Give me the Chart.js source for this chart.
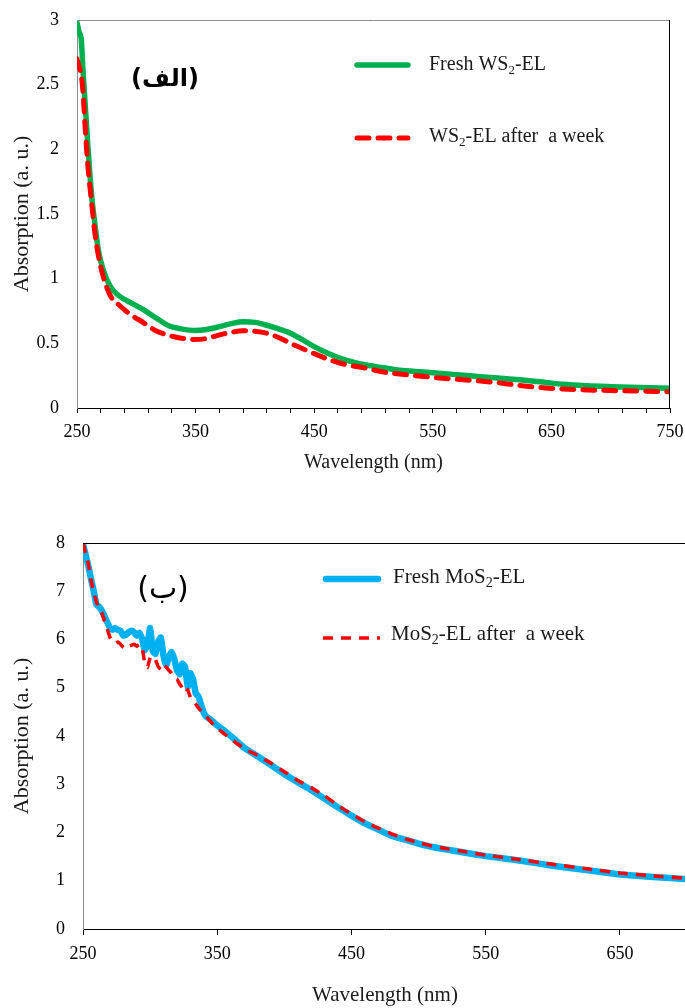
<!DOCTYPE html>
<html>
<head>
<meta charset="utf-8">
<script src="https://cdn.jsdelivr.net/npm/chart.js@4.4.1/dist/chart.umd.min.js"></script>
<style>
html, body { margin: 0; padding: 0; background: #fff; overflow: hidden; width: 685px; height: 1008px; }
#top { position: absolute; left: 0; top: 0; width: 685px; height: 480px; }
#bot { position: absolute; left: 0; top: 500px; width: 690px; height: 508px; }
</style>
</head>
<body>
<div id="top"><canvas id="c1"></canvas></div>
<div id="bot"><canvas id="c2"></canvas></div>
<script>
// ---- data: WS2-EL (panel الف) ----
var wsWave = [250, 252, 253.5, 255, 257, 259, 261, 263, 265, 268, 272, 278, 285, 294, 306, 316, 328, 338, 349, 358,
  368, 380, 390, 400, 410, 420, 430, 440, 450, 461, 472, 483, 494, 507, 520, 535, 550, 570, 590, 610,
  625, 645, 660, 680, 700, 725, 750];
var wsFresh = [2.98, 2.90, 2.86, 2.62, 2.33, 2.05, 1.79, 1.58, 1.43, 1.22, 1.07, 0.94, 0.87, 0.82, 0.76, 0.70, 0.634, 0.612, 0.60, 0.605,
  0.624, 0.652, 0.667, 0.662, 0.64, 0.612, 0.578, 0.528, 0.474, 0.425, 0.384, 0.355, 0.333, 0.313, 0.294, 0.283, 0.273, 0.258, 0.242, 0.228,
  0.217, 0.198, 0.183, 0.172, 0.165, 0.158, 0.152];
var wsWeek = [2.70, 2.63, 2.58, 2.45, 2.15, 1.89, 1.70, 1.53, 1.36, 1.18, 1.02, 0.87, 0.80, 0.73, 0.66, 0.60, 0.56, 0.54, 0.53, 0.535,
  0.56, 0.585, 0.598, 0.593, 0.578, 0.545, 0.50, 0.46, 0.42, 0.38, 0.346, 0.325, 0.307, 0.28, 0.265, 0.25, 0.237, 0.222, 0.209, 0.19,
  0.172, 0.155, 0.147, 0.14, 0.135, 0.13, 0.126];

// ---- data: MoS2-EL (panel ب) ----
var moWave = [250, 252, 254, 256, 258, 260, 262, 264, 266, 268, 270, 272, 274, 276, 278, 280, 282, 284, 286, 288,
  290, 292, 294, 296, 298, 300, 302, 304, 306, 308, 310, 312, 314, 316, 318, 320, 322, 324, 326, 328,
  330, 332, 334, 336, 338, 340, 342, 345, 350, 355, 360, 370, 380, 390, 400, 410, 420, 430, 440, 450,
  460, 470, 480, 490, 500, 510, 520, 535, 550, 575, 600, 625, 650, 675, 700];
var moFresh = [7.98, 7.75, 7.52, 7.25, 7.00, 6.72, 6.68, 6.60, 6.48, 6.36, 6.24, 6.20, 6.24, 6.20, 6.18, 6.08, 6.10, 6.15, 6.18, 6.15,
  6.08, 6.14, 6.02, 5.78, 5.88, 6.24, 5.76, 5.70, 5.96, 6.04, 5.66, 5.46, 5.64, 5.74, 5.60, 5.36, 5.28, 5.50, 5.44, 5.02,
  5.30, 5.18, 4.88, 4.82, 4.65, 4.48, 4.40, 4.34, 4.22, 4.12, 4.00, 3.76, 3.58, 3.40, 3.21, 3.04, 2.88, 2.70, 2.52, 2.35,
  2.19, 2.06, 1.93, 1.85, 1.77, 1.70, 1.65, 1.58, 1.51, 1.42, 1.31, 1.22, 1.13, 1.08, 1.03];
var moWeek = [8.00, 7.78, 7.56, 7.22, 6.98, 6.78, 6.62, 6.55, 6.38, 6.22, 6.05, 5.96, 5.92, 5.95, 5.90, 5.84, 5.80, 5.86, 5.88, 5.90,
  5.86, 5.90, 5.84, 5.52, 5.42, 5.62, 5.65, 5.58, 5.44, 5.38, 5.48, 5.43, 5.36, 5.30, 5.20, 5.18, 5.08, 5.00, 4.90, 4.96,
  4.80, 4.72, 4.66, 4.58, 4.52, 4.45, 4.40, 4.30, 4.16, 4.05, 3.94, 3.74, 3.60, 3.44, 3.26, 3.08, 2.93, 2.76, 2.56, 2.38,
  2.22, 2.09, 1.97, 1.87, 1.79, 1.72, 1.67, 1.60, 1.53, 1.44, 1.34, 1.25, 1.16, 1.10, 1.05];

// tick labels and legend texts (odd parts are subscripts)
var wsXLabels = [250, 350, 450, 550, 650, 750];
var moXLabels = [250, 350, 450, 550, 650];
var wsFreshLabel = ['Fresh WS', '2', '-EL'];
var wsWeekLabel = ['WS', '2', '-EL after  a week'];
var moFreshLabel = ['Fresh MoS', '2', '-EL'];
var moWeekLabel = ['MoS', '2', '-EL after  a week'];

function pts(xs, ys) {
  return xs.map(function (x, i) { return { x: x, y: ys[i] }; });
}

var SERIF = '"Liberation Serif", "Times New Roman", serif';

var framePlugin = {
  id: 'frame',
  afterDraw: function (chart, args, o) {
    var ctx = chart.ctx, a = chart.chartArea;
    ctx.save();
    ctx.lineWidth = 1;
    ctx.strokeStyle = o.topColor;
    ctx.beginPath(); ctx.moveTo(a.left, a.top + 0.5); ctx.lineTo(a.right, a.top + 0.5); ctx.stroke();
    ctx.strokeStyle = o.rightColor;
    ctx.beginPath(); ctx.moveTo(a.right - 0.5, a.top); ctx.lineTo(a.right - 0.5, a.bottom); ctx.stroke();
    ctx.restore();
  }
};

var keyPlugin = {
  id: 'key',
  afterDraw: function (chart, args, o) {
    var ctx = chart.ctx;
    o.items.forEach(function (it) {
      var ds = chart.data.datasets[it.ds];
      ctx.save();
      ctx.strokeStyle = ds.borderColor;
      ctx.lineWidth = ds.borderWidth;
      ctx.lineCap = ds.borderCapStyle || 'round';
      ctx.setLineDash(ds.borderDash || []);
      ctx.beginPath(); ctx.moveTo(it.x1, it.y); ctx.lineTo(it.x2, it.y); ctx.stroke();
      ctx.setLineDash([]);
      ctx.fillStyle = '#1a1a1a';
      ctx.textBaseline = 'middle';
      var x = it.tx;
      it.text.forEach(function (part, j) {
        var sub = j % 2 === 1;
        ctx.font = (sub ? o.subSize : o.size) + 'px ' + SERIF;
        ctx.fillText(part, x, it.ty + (sub ? 6 : 0));
        x += ctx.measureText(part).width;
      });
      ctx.restore();
    });
    ctx.save();
    ctx.fillStyle = '#000';
    ctx.textAlign = 'center';
    ctx.textBaseline = 'middle';
    ctx.font = o.tagFont;
    ctx.fillText(o.tag, o.tagX, o.tagY);
    ctx.restore();
  }
};

// keep the plot area where the layout padding puts it
function noScalePadding(s) {
  s.paddingTop = 0; s.paddingBottom = 0; s.paddingLeft = 0; s.paddingRight = 0;
}

function makeChart(id, cfg) {
  var tickFont = { family: SERIF, size: 18 };
  return new Chart(document.getElementById(id), {
    type: 'line',
    data: { datasets: cfg.datasets },
    options: {
      responsive: true,
      maintainAspectRatio: false,
      animation: false,
      layout: { padding: cfg.padding },
      elements: { point: { radius: 0 } },
      plugins: {
        legend: { display: false },
        tooltip: { enabled: false },
        frame: cfg.frame,
        key: cfg.key
      },
      scales: {
        x: {
          type: 'linear',
          min: cfg.xMin,
          max: cfg.xMax,
          afterFit: function (s) { s.height = cfg.xHeight; noScalePadding(s); },
          afterBuildTicks: function (s) { s.ticks = cfg.xTicks.map(function (v) { return { value: v }; }); },
          ticks: {
            autoSkip: false,
            maxRotation: 0,
            padding: 8,
            color: '#000',
            font: tickFont,
            callback: function (v) { return cfg.xLabels.indexOf(v) >= 0 ? String(v) : ''; }
          },
          grid: { drawOnChartArea: false, drawTicks: true, tickLength: cfg.tickLength, color: '#000' },
          border: { display: true, color: '#000', width: 1 },
          title: { display: true, text: 'Wavelength (nm)', color: '#1a1a1a', font: { family: SERIF, size: cfg.xTitleSize },
            padding: { top: 0, bottom: cfg.xTitlePad } }
        },
        y: {
          min: 0,
          max: cfg.yMax,
          afterFit: function (s) { s.width = cfg.yWidth; noScalePadding(s); },
          ticks: {
            stepSize: cfg.yStep,
            padding: 18,
            color: '#000',
            font: tickFont,
            callback: function (v) { return String(v); }
          },
          grid: { display: false, drawTicks: false },
          border: { display: true, color: '#8a8a8a', width: 1 },
          title: { display: true, text: 'Absorption (a. u.)', color: '#1a1a1a', font: { family: SERIF, size: 22 },
            padding: { top: 9, bottom: 0 } }
        }
      }
    },
    plugins: [framePlugin, keyPlugin]
  });
}

// tick marks every 20 nm on the WS2 panel
var wsTicks = [];
for (var t = 250; t <= 750; t += 20) wsTicks.push(t);

makeChart('c1', {
  padding: { top: 20, right: 15, left: 0, bottom: 0 },
  xMin: 250, xMax: 750, xHeight: 72, xTicks: wsTicks, xLabels: wsXLabels, tickLength: 5, xTitlePad: 5, xTitleSize: 20,
  yMax: 3, yStep: 0.5, yWidth: 77,
  datasets: [
    { label: 'WS2-EL after a week', data: pts(wsWave, wsWeek), borderColor: '#FF0000', borderWidth: 5,
      borderDash: [12, 9], borderCapStyle: 'round', cubicInterpolationMode: 'monotone', fill: false },
    { label: 'Fresh WS2-EL', data: pts(wsWave, wsFresh), borderColor: '#00B050', borderWidth: 5.5,
      borderCapStyle: 'round', cubicInterpolationMode: 'monotone', fill: false }
  ],
  frame: { topColor: '#8a8a8a', rightColor: '#000' },
  key: {
    size: 20, subSize: 13,
    items: [
      { ds: 1, x1: 357, x2: 408, y: 65, tx: 429, ty: 65, text: wsFreshLabel },
      { ds: 0, x1: 357, x2: 408, y: 138, tx: 429, ty: 137, text: wsWeekLabel }
    ],
    tag: '(الف)', tagFont: 'bold 24px "DejaVu Sans", sans-serif', tagX: 165, tagY: 80
  }
});

makeChart('c2', {
  padding: { top: 43, right: 3, left: 0, bottom: 0 },
  xMin: 250, xMax: 700, xHeight: 79, xTicks: moXLabels, xLabels: moXLabels, tickLength: 6, xTitlePad: 0, xTitleSize: 21,
  yMax: 8, yStep: 1, yWidth: 83,
  datasets: [
    { label: 'MoS2-EL after a week', data: pts(moWave, moWeek), borderColor: '#FF0000', borderWidth: 3.5,
      borderDash: [10, 8], borderCapStyle: 'butt', tension: 0.1, fill: false },
    { label: 'Fresh MoS2-EL', data: pts(moWave, moFresh), borderColor: '#00B0F0', borderWidth: 6.5,
      borderCapStyle: 'round', borderJoinStyle: 'round', tension: 0.1, fill: false }
  ],
  frame: { topColor: '#000', rightColor: '#000' },
  key: {
    size: 21, subSize: 14,
    items: [
      { ds: 1, x1: 326, x2: 378, y: 79, tx: 393, ty: 77, text: moFreshLabel },
      { ds: 0, x1: 323, x2: 380, y: 138, tx: 391, ty: 134, text: moWeekLabel }
    ],
    tag: '(ب)', tagFont: '30px "DejaVu Sans", sans-serif', tagX: 163, tagY: 90
  }
});
</script>
</body>
</html>
